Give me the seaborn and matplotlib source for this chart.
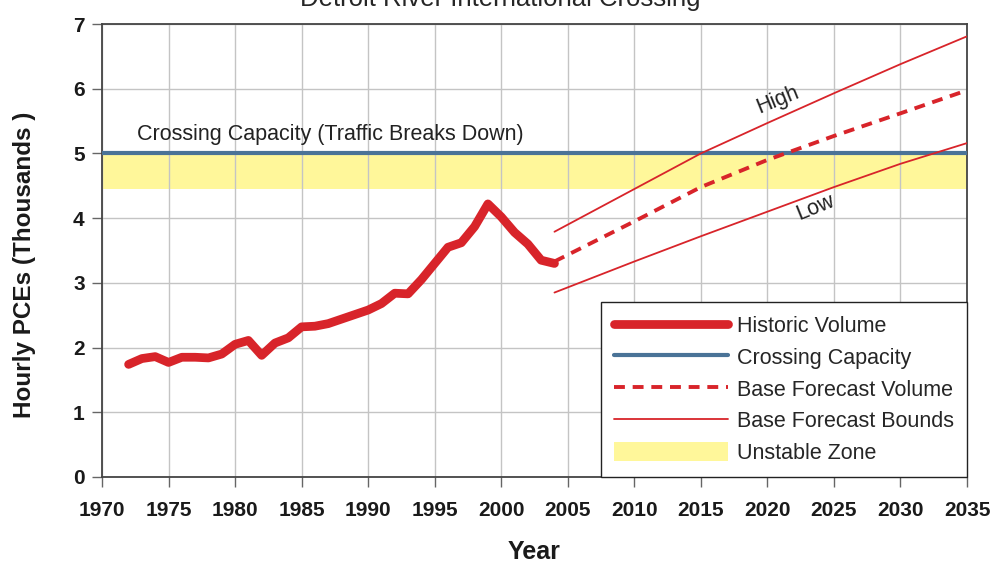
import matplotlib
matplotlib.use('Agg')
import matplotlib.pyplot as plt
from matplotlib.lines import Line2D
from matplotlib.patches import Patch
import seaborn as sns
import pandas as pd

# historic hourly volume (thousands of PCEs)
hist_years = [1972, 1973, 1974, 1975, 1976, 1977, 1978, 1979, 1980, 1981, 1982,
              1983, 1984, 1985, 1986, 1987, 1988, 1989, 1990, 1991, 1992, 1993,
              1994, 1995, 1996, 1997, 1998, 1999, 2000, 2001, 2002, 2003, 2004]
hist_volume = [1.74, 1.83, 1.86, 1.77, 1.85, 1.85, 1.84, 1.90, 2.05, 2.11, 1.88,
               2.07, 2.15, 2.32, 2.33, 2.37, 2.44, 2.51, 2.58, 2.68, 2.84, 2.83,
               3.05, 3.30, 3.55, 3.62, 3.87, 4.22, 4.02, 3.78, 3.60, 3.35, 3.30]

# forecasts
fc_years = [2004, 2010, 2015, 2020, 2025, 2030, 2035]
high_volume = [3.79, 4.45, 5.00, 5.47, 5.93, 6.38, 6.81]
low_volume = [2.85, 3.33, 3.72, 4.10, 4.48, 4.84, 5.16]
base_years = [2004, 2010, 2015, 2020, 2025, 2030, 2034.5]
base_volume = [3.33, 3.95, 4.48, 4.90, 5.27, 5.62, 5.94]

capacity = 5.0
unstable_low = 4.45

red = '#d8242a'
blue = '#4a7397'
yellow = '#fff79a'

sns.set_style('ticks')
plt.rcParams['font.family'] = ['Liberation Sans', 'DejaVu Sans']

fig = plt.figure(figsize=(9.96, 5.64), dpi=100)
ax = fig.add_axes([0.1024, 0.1543, 0.8685, 0.8031])

ax.axhspan(unstable_low, capacity, color=yellow, lw=0, zorder=1)
ax.axhline(capacity, color=blue, lw=3.0, zorder=3)

hist = pd.DataFrame({'year': hist_years, 'volume': hist_volume})
sns.lineplot(data=hist, x='year', y='volume', color=red, lw=6.3, ax=ax,
             solid_capstyle='round', solid_joinstyle='round', zorder=4)

fc = pd.DataFrame({'year': fc_years, 'high': high_volume, 'low': low_volume})
sns.lineplot(data=fc, x='year', y='high', color=red, lw=1.3, ax=ax, zorder=4)
sns.lineplot(data=fc, x='year', y='low', color=red, lw=1.3, ax=ax, zorder=4)
base = pd.DataFrame({'year': base_years, 'volume': base_volume})
sns.lineplot(data=base, x='year', y='volume', color=red, lw=2.8, ax=ax,
             dashes=False, zorder=4).lines[-1].set_dashes((2.8, 2.0))

ax.set_xlim(1970, 2035)
ax.set_ylim(0, 7)
ax.set_xticks(range(1970, 2036, 5))
ax.set_yticks(range(0, 8))
ax.set_axisbelow('line')
ax.grid(True, color='#c4c4c4', lw=1.0)
for s in ax.spines.values():
    s.set_color('#444444')
    s.set_linewidth(1.3)
ax.tick_params(axis='both', length=7.5, width=1, color='#666666', labelsize=15,
               labelcolor='#1a1a1a')
ax.tick_params(axis='x', pad=10)
ax.tick_params(axis='y', pad=5)
for lab in ax.get_xticklabels() + ax.get_yticklabels():
    lab.set_fontweight('bold')

ax.set_xlabel('Year', fontsize=18, fontweight='bold', labelpad=14, color='#1a1a1a')
ax.set_ylabel('Hourly PCEs (Thousands )', fontsize=17.5, fontweight='bold',
              color='#1a1a1a')
ax.yaxis.set_label_coords(-0.076, 0.469)

ax.text(1972.6, 5.3, 'Crossing Capacity (Traffic Breaks Down)', fontsize=15.5,
        ha='left', va='center', color='#222222')
ax.text(2020.8, 5.82, 'High', fontsize=15.5, rotation=22, ha='center', va='center',
        color='#222222')
ax.text(2023.6, 4.17, 'Low', fontsize=15.5, rotation=22, ha='center', va='center',
        color='#222222')

fig.text(0.502, 0.989, 'Detroit River International Crossing', fontsize=18.5,
         ha='center', va='baseline')

handles = [
    Line2D([], [], color=red, lw=6.3, solid_capstyle='round'),
    Line2D([], [], color=blue, lw=3.0),
    Line2D([], [], color=red, lw=2.8, dashes=(2.8, 2.0)),
    Line2D([], [], color=red, lw=1.3),
    Patch(facecolor=yellow, edgecolor='none'),
]
labels = ['Historic Volume', 'Crossing Capacity', 'Base Forecast Volume',
          'Base Forecast Bounds', 'Unstable Zone']
leg = ax.legend(handles, labels, loc='lower right', bbox_to_anchor=(1, 0),
                borderaxespad=0, fontsize=15.5, handlelength=5.3, handletextpad=0.4,
                labelspacing=0.45, fancybox=False, framealpha=1, edgecolor='#222222',
                borderpad=0.6, handleheight=1.0)
leg.get_frame().set_linewidth(1.0)
leg.set_zorder(10)

fig.savefig('out.png', dpi=100)
